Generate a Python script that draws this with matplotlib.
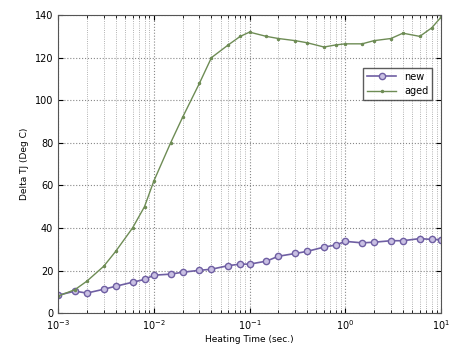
import matplotlib
matplotlib.use("Agg")
from matplotlib import pyplot as plt
from matplotlib.ticker import LogLocator, NullFormatter

# Heating time samples (sec.)
t = [1e-3, 1.5e-3, 2e-3, 3e-3, 4e-3, 6e-3, 8e-3,
     1e-2, 1.5e-2, 2e-2, 3e-2, 4e-2, 6e-2, 8e-2,
     0.1, 0.15, 0.2, 0.3, 0.4, 0.6, 0.8,
     1, 1.5, 2, 3, 4, 6, 8, 10]

# Delta TJ (Deg C)
new = [8.4, 10.3, 9.4, 11.2, 12.6, 14.5, 15.8,
       17.8, 18.3, 19.2, 20.1, 20.6, 22.3, 23.0,
       23.0, 24.4, 26.7, 28.0, 29.0, 31.0, 32.0,
       33.7, 33.0, 33.3, 34.0, 34.0, 35.0, 34.6, 34.5]
aged = [8.0, 11.0, 15.0, 22.0, 29.0, 40.0, 50.0,
        62.0, 80.0, 92.0, 108.0, 120.0, 126.0, 130.0,
        132.0, 130.0, 129.0, 128.0, 127.0, 125.0, 126.0,
        126.5, 126.5, 128.0, 129.0, 131.5, 130.0, 134.0, 139.0]

fig = plt.figure(figsize=(4.5, 3.51), dpi=100)
ax = fig.add_axes([0.129, 0.108, 0.851, 0.849])

ax.semilogx(t, new, '-o', color='#6f5fa3', markersize=4.5, markerfacecolor='#c9c0e3',
            markeredgecolor='#6f5fa3', linewidth=1.2, label='new')
ax.semilogx(t, aged, '-', color='#6e8c55', marker='.', markersize=3, linewidth=1.0, label='aged')

ax.set_xlim(1e-3, 10)
ax.set_ylim(0, 140)
ax.set_yticks(range(0, 141, 20))
ax.xaxis.set_major_locator(LogLocator(base=10, numticks=10))
ax.xaxis.set_minor_locator(LogLocator(base=10, subs=range(2, 10), numticks=10))
ax.xaxis.set_minor_formatter(NullFormatter())

ax.grid(True, which='major', linestyle=':', color='#888888', linewidth=0.8)
ax.grid(True, which='minor', axis='x', linestyle=':', color='#999999', linewidth=0.6)
ax.tick_params(direction='in', labelsize=7, top=True, right=True, which='both')
for s in ax.spines.values():
    s.set_color('#555555')

ax.set_xlabel('Heating Time (sec.)', fontsize=6.5, labelpad=2)
ax.set_ylabel('Delta TJ (Deg C)', fontsize=6.5, labelpad=4)

leg = ax.legend(loc='upper right', bbox_to_anchor=(0.99, 0.84), fontsize=7, fancybox=False,
                edgecolor='#333333', handlelength=3, borderpad=0.4, labelspacing=0.5)
leg.get_frame().set_linewidth(1.0)

fig.savefig('out.png', dpi=100)
